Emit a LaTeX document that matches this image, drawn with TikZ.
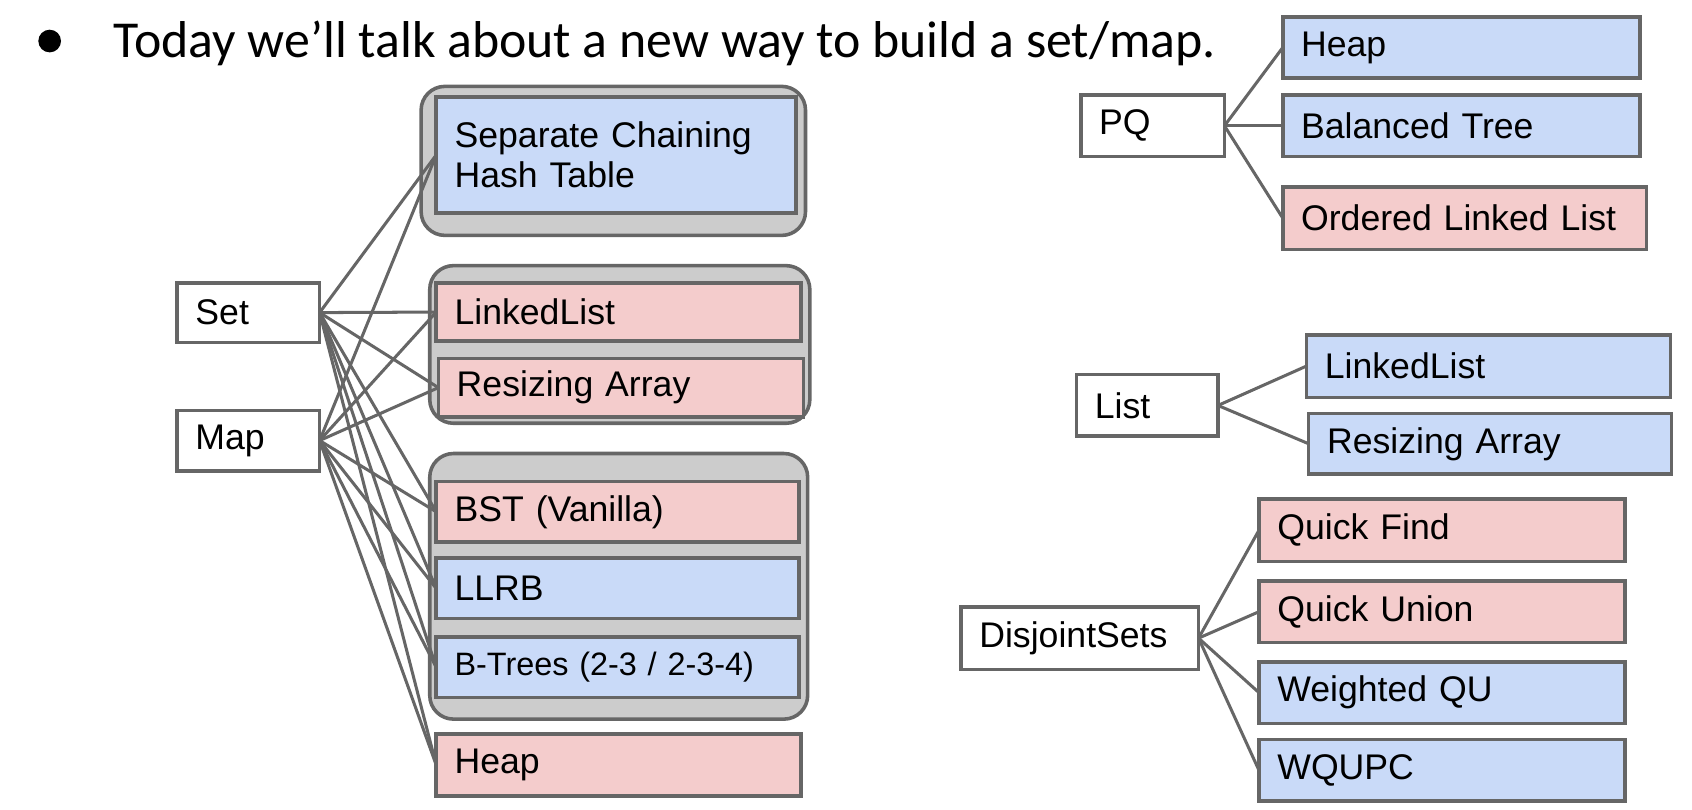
\documentclass[tikz,border=0pt]{standalone}
\usepackage{fontspec}
\setmainfont{Liberation Sans}
\newfontfamily\titlefont{Carlito}
\usepackage{xcolor}

\definecolor{edgegray}{HTML}{666666}
\definecolor{groupgray}{HTML}{CCCCCC}
\definecolor{slideblue}{HTML}{C9DAF8}
\definecolor{slidepink}{HTML}{F4CCCC}

\tikzset{
  box/.style={draw=edgegray, line width=3.3pt, anchor=north west, outer sep=0pt,
    inner xsep=17pt, inner ysep=0pt, align=left, font=\fontsize{33}{37}\selectfont},
  bluebox/.style={box, fill=slideblue},
  pinkbox/.style={box, fill=slidepink},
  keybox/.style={box, fill=white},
  group/.style={draw=edgegray, line width=3.3pt, fill=groupgray, rounded corners=22pt},
  link/.style={draw=edgegray, line width=2.8pt}
}

\begin{document}
\begin{tikzpicture}[x=1pt, y=-1pt]
                \useasboundingbox (0,0) rectangle (1567,750);
                % title line
                \node[circle, fill=black, inner sep=0pt, minimum size=21pt] (dot) at (46,38) {};
                \node[anchor=west, inner sep=0pt, font=\titlefont\fontsize{48}{54}\selectfont] (title) at (105,40) {Today we’ll talk about a new way to build a set/map.};
                % set / map
                \draw[group] (390,80) rectangle (746,218);
                \draw[group] (398,246) rectangle (750,392);
                \draw[group] (398,420) rectangle (748,666);
                \node[keybox, text width=98pt, minimum height=55pt] (set) at (164,262) {Set};
                \node[keybox, text width=98pt, minimum height=56pt] (map) at (164,380) {Map};
                \node[bluebox, text width=299pt, minimum height=107pt] (sepchain) at (404,90) {Separate Chaining\\Hash Table};
                \node[pinkbox, text width=304pt, minimum height=54pt] (linkedL) at (404,262) {LinkedList};
                \node[pinkbox, text width=304pt, minimum height=54pt] (resizeL) at (406,332) {Resizing Array};
                \node[pinkbox, text width=302pt, minimum height=56pt] (bst) at (404,446) {BST (Vanilla)};
                \node[bluebox, text width=302pt, minimum height=56pt] (llrb) at (404,517) {LLRB};
                \node[bluebox, text width=302pt, minimum height=56pt, font=\fontsize{30}{36}\selectfont] (btree) at (404,590) {B-Trees (2-3 / 2-3-4)};
                \node[pinkbox, text width=304pt, minimum height=57pt] (heapL) at (404,680) {Heap};
                \foreach \t in {sepchain,linkedL,resizeL,bst,llrb,btree,heapL} {
                    \draw[link] (set.east) -- (\t.west);
                    \draw[link] (map.east) -- (\t.west);
                }
                % priority queue
                \node[keybox, text width=99pt, minimum height=57pt] (pq) at (1001,88) {PQ};
                \node[bluebox, text width=297pt, minimum height=56pt] (heapR) at (1188,16) {Heap};
                \node[bluebox, text width=297pt, minimum height=57pt] (balanced) at (1188,88) {Balanced Tree};
                \node[pinkbox, text width=303pt, minimum height=58pt] (ordered) at (1188,173) {Ordered Linked List};
                \foreach \t in {heapR,balanced,ordered}
                    \draw[link] (pq.east) -- (\t.west);
                % list
                \node[keybox, text width=97pt, minimum height=57pt] (list) at (997,347) {List};
                \node[bluebox, text width=303pt, minimum height=58pt] (linkedR) at (1210,310) {LinkedList};
                \node[bluebox, text width=302pt, minimum height=56pt] (resizeR) at (1212,383) {Resizing Array};
                \foreach \t in {linkedR,resizeR}
                    \draw[link] (list.east) -- (\t.west);
                % disjoint sets
                \node[keybox, text width=186pt, minimum height=58pt] (djs) at (890,562) {DisjointSets};
                \node[pinkbox, text width=305pt, minimum height=58pt] (qfind) at (1166,462) {Quick Find};
                \node[pinkbox, text width=305pt, minimum height=57pt] (qunion) at (1166,538) {Quick Union};
                \node[bluebox, text width=305pt, minimum height=57pt] (wqu) at (1166,613) {Weighted QU};
                \node[bluebox, text width=305pt, minimum height=57pt] (wqupc) at (1166,685) {WQUPC};
                \foreach \t in {qfind,qunion,wqu,wqupc}
                    \draw[link] (djs.east) -- (\t.west);
            \end{tikzpicture}
\end{document}
